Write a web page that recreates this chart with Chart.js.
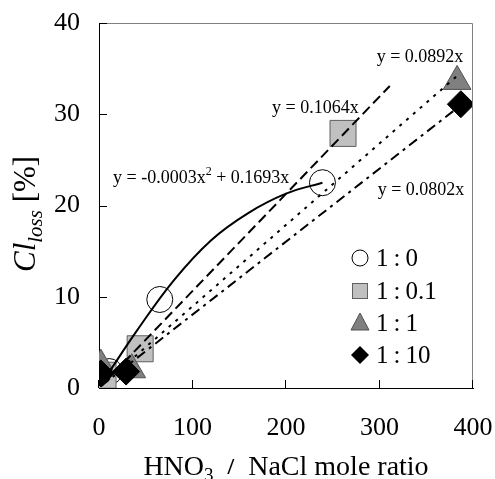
<!DOCTYPE html>
<html>
<head>
<meta charset="utf-8">
<script src="https://cdn.jsdelivr.net/npm/chart.js@4.4.0/dist/chart.umd.min.js"></script>
<style>
  body { margin: 0; background: #fff; }
  #wrap { width: 495px; height: 479px; }
</style>
</head>
<body>
<div id="wrap"><canvas id="grafico" width="495" height="479"></canvas></div>
<script>
// valores
const xTicks = [0, 100, 200, 300, 400];
const yTicks = [0, 10, 20, 30, 40];
const legendas = ['1 : 0', '1 : 0.1', '1 : 1', '1 : 10'];

// pontos medidos
const x1_0 = [11, 65, 239];
const y1_0 = [1.8, 9.7, 22.5];
const x1_01 = [4.3, 44, 261];
const y1_01 = [1.4, 4.3, 27.9];
const x1_1 = [2, 35, 383];
const y1_1 = [2.5, 2.0, 33.6];
const x1_10 = [2, 29, 387];
const y1_10 = [1.6, 1.8, 31.1];

// linhas de tendência
const xCurva = [8, 40, 80, 120, 160, 200, 239];
const yCurva = [1.3, 6.2, 11.8, 16.2, 19.2, 21.3, 22.5];
const xReta01 = [4, 311];
const yReta01 = [0.4, 33.1];
const xReta1 = [2, 383];
const yReta1 = [0.2, 34.2];
const xReta10 = [2, 387];
const yReta10 = [0.2, 31.0];

// textos das equações (posição em unidades dos eixos)
const equacoes = ['y = 0.0892x', 'y = 0.1064x', 'y = -0.0003x|2| + 0.1693x', 'y = 0.0802x'];
const eqX = [297, 185, 15, 298];
const eqY = [35.7, 30.1, 22.5, 21.2];

function pontos(xs, ys) {
  return xs.map((x, i) => ({ x: x, y: ys[i] }));
}

const serif = '"Liberation Serif", "Times New Roman", serif';

const desenhos = {
  id: 'desenhos',
  afterDraw(chart) {
    const ctx = chart.ctx;
    const a = chart.chartArea;
    const sx = chart.scales.x;
    const sy = chart.scales.y;
    ctx.save();

    // bordas de cima e da direita
    ctx.strokeStyle = '#808080';
    ctx.lineWidth = 1;
    ctx.beginPath();
    ctx.moveTo(a.left, a.top + 0.5);
    ctx.lineTo(a.right - 0.5, a.top + 0.5);
    ctx.lineTo(a.right - 0.5, a.bottom);
    ctx.stroke();

    // marcas para dentro
    ctx.strokeStyle = '#000';
    ctx.beginPath();
    for (const v of xTicks) {
      const px = Math.round(sx.getPixelForValue(v)) - 0.5;
      ctx.moveTo(px, a.bottom);
      ctx.lineTo(px, a.bottom - 8);
    }
    for (const v of yTicks) {
      const py = Math.round(sy.getPixelForValue(v)) + 0.5;
      ctx.moveTo(a.left, py);
      ctx.lineTo(a.left + 8, py);
    }
    ctx.stroke();

    // equações
    ctx.fillStyle = '#000';
    ctx.textBaseline = 'alphabetic';
    ctx.textAlign = 'left';
    equacoes.forEach((txt, i) => {
      let px = sx.getPixelForValue(eqX[i]);
      const py = sy.getPixelForValue(eqY[i]);
      const partes = txt.split('|');
      partes.forEach((p, j) => {
        const sup = j % 2 === 1;
        ctx.font = (sup ? '12px ' : '18px ') + serif;
        ctx.fillText(p, px, sup ? py - 8 : py);
        px += ctx.measureText(p).width;
      });
    });

    // legenda
    const lx = 360, ly = [258, 291, 323, 355];
    ctx.lineWidth = 1;
    // circulo
    ctx.beginPath();
    ctx.arc(lx, ly[0], 8, 0, Math.PI * 2);
    ctx.fillStyle = '#fff'; ctx.fill();
    ctx.strokeStyle = '#000'; ctx.stroke();
    // quadrado
    ctx.fillStyle = '#C0C0C0'; ctx.strokeStyle = '#606060';
    ctx.fillRect(lx - 8, ly[1] - 8, 16, 16);
    ctx.strokeRect(lx - 7.5, ly[1] - 7.5, 15, 15);
    // triangulo
    ctx.beginPath();
    ctx.moveTo(lx, ly[2] - 10);
    ctx.lineTo(lx + 9, ly[2] + 7);
    ctx.lineTo(lx - 9, ly[2] + 7);
    ctx.closePath();
    ctx.fillStyle = '#808080'; ctx.fill();
    ctx.strokeStyle = '#505050'; ctx.stroke();
    // losango
    ctx.beginPath();
    ctx.moveTo(lx, ly[3] - 9);
    ctx.lineTo(lx + 9, ly[3]);
    ctx.lineTo(lx, ly[3] + 9);
    ctx.lineTo(lx - 9, ly[3]);
    ctx.closePath();
    ctx.fillStyle = '#000'; ctx.fill();

    ctx.font = '25px ' + serif;
    ctx.fillStyle = '#000';
    ctx.textBaseline = 'middle';
    legendas.forEach((t, i) => {
      ctx.fillText(t.replace(/ /g, '\u2009'), lx + 16, ly[i] + 1);
    });

    // título do eixo x
    ctx.textBaseline = 'alphabetic';
    const pedacos = [
      ['HNO', '28px ' + serif, 0],
      ['3', '19px ' + serif, 6],
      ['  ', '28px ' + serif, 0],
      ['/', 'bold 24px ' + serif, -1],
      ['  NaCl mole ratio', '28px ' + serif, 0]
    ];
    let total = 0;
    for (const p of pedacos) { ctx.font = p[1]; total += ctx.measureText(p[0]).width; }
    let tx = (a.left + a.right) / 2 - total / 2;
    for (const p of pedacos) {
      ctx.font = p[1];
      ctx.fillText(p[0], tx, 475 + p[2]);
      tx += ctx.measureText(p[0]).width;
    }

    // título do eixo y
    ctx.translate(35, 272);
    ctx.rotate(-Math.PI / 2);
    ctx.font = 'italic 31px ' + serif;
    ctx.fillText('Cl', 0, 0);
    let w = ctx.measureText('Cl').width;
    ctx.font = 'italic 21px ' + serif;
    ctx.fillText('loss', w, 7);
    w += ctx.measureText('loss').width;
    ctx.font = '31px ' + serif;
    ctx.fillText(' [%]', w, 0);

    ctx.restore();
  }
};

const ctx = document.getElementById('grafico');

new Chart(ctx, {
  type: 'scatter',
  data: {
    datasets: [
      {
        label: 'curva 1:0', data: pontos(xCurva, yCurva), showLine: true,
        borderColor: '#000', borderWidth: 2, pointRadius: 0,
        tension: 0.4, order: 0
      },
      {
        label: 'reta 1:0.1', data: pontos(xReta01, yReta01), showLine: true,
        borderColor: '#000', borderWidth: 2, borderDash: [10, 5], pointRadius: 0, order: 0
      },
      {
        label: 'reta 1:1', data: pontos(xReta1, yReta1), showLine: true,
        borderColor: '#000', borderWidth: 2, borderDash: [3, 6], pointRadius: 0, order: 0
      },
      {
        label: 'reta 1:10', data: pontos(xReta10, yReta10), showLine: true,
        borderColor: '#000', borderWidth: 2, borderDash: [10, 5, 3, 5], pointRadius: 0, order: 0
      },
      {
        label: legendas[0], data: pontos(x1_0, y1_0), pointStyle: 'circle', pointRadius: 13,
        backgroundColor: 'rgba(255,255,255,0)', borderColor: '#000', borderWidth: 1, order: 4
      },
      {
        label: legendas[1], data: pontos(x1_01, y1_01), pointStyle: 'rect', pointRadius: 18.4,
        backgroundColor: '#C0C0C0', borderColor: '#606060', borderWidth: 1, order: 3
      },
      {
        label: legendas[2], data: pontos(x1_1, y1_1), pointStyle: 'triangle', pointRadius: 16,
        backgroundColor: '#808080', borderColor: '#505050', borderWidth: 1, order: 2
      },
      {
        label: legendas[3], data: pontos(x1_10, y1_10), pointStyle: 'rectRot', pointRadius: 13.5,
        backgroundColor: '#000', borderColor: '#000', borderWidth: 1, order: 1
      }
    ]
  },
  options: {
    animation: false,
    responsive: false,
    layout: { padding: { top: 23, right: 22, left: 0, bottom: 0 } },
    plugins: {
      legend: { display: false },
      tooltip: { enabled: false }
    },
    scales: {
      x: {
        type: 'linear', min: 0, max: 400,
        afterBuildTicks: (s) => { s.ticks = xTicks.map(v => ({ value: v })); },
        afterFit: (s) => { s.height = 91; s.paddingLeft = 0; s.paddingRight = 0; },
        grid: { display: true, drawOnChartArea: false, drawTicks: false },
        border: { color: '#000', width: 1 },
        ticks: { color: '#000', padding: 25, font: { family: 'Liberation Serif', size: 26 } }
      },
      y: {
        type: 'linear', min: 0, max: 40,
        afterBuildTicks: (s) => { s.ticks = yTicks.map(v => ({ value: v })); },
        afterFit: (s) => { s.width = 99; s.paddingTop = 0; s.paddingBottom = 0; },
        grid: { display: true, drawOnChartArea: false, drawTicks: false },
        border: { color: '#000', width: 1 },
        ticks: { color: '#000', padding: 19, font: { family: 'Liberation Serif', size: 26 } }
      }
    }
  },
  plugins: [desenhos]
});
</script>
</body>
</html>
